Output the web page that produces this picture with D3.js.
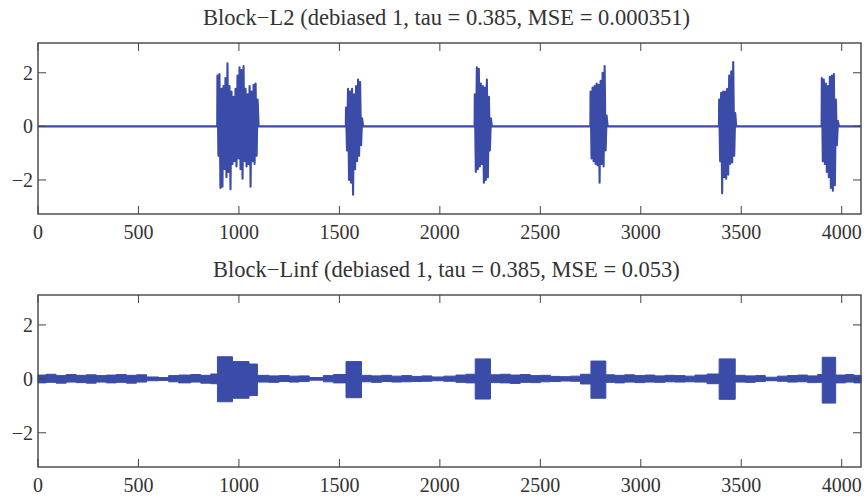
<!DOCTYPE html>
<html>
<head>
<meta charset="utf-8">
<script src="https://cdn.jsdelivr.net/npm/d3@7"></script>
<style>
  body { margin: 0; background: #fff; }
  text { font-family: "Liberation Serif", "Times New Roman", serif; fill: #333; }
</style>
</head>
<body>
<div id="chart"></div>
<script>
const nSamples = 4096;
const xTicks = [0, 500, 1000, 1500, 2000, 2500, 3000, 3500, 4000];
const yTicks = [-2, 0, 2];

const titleL2 = "Block\u2212L2 (debiased 1, tau = 0.385, MSE = 0.000351)";
const titleLinf = "Block\u2212Linf (debiased 1, tau = 0.385, MSE = 0.053)";

// top panel: signal is zero outside the blocks, samples every 5 indices inside
const l2Starts = [893, 1533, 2174, 2750, 3390, 3901];
const l2Step = 5;
const l2Block1 = [1.9, -1.1, 1.95, -2.3, 1.4, -2.25, 1.5, -1.6, 1.8, -1.9, 2.35, -1.7, 1.5, -2.35,
  1.3, -1.4, 1.1, -1.3, 1.4, -1.5, 1.9, -1.2, 2.2, -1.6, 2.1, -1.95, 2.25, -1.3, 1.4, -1.5,
  1.2, -1.4, 1.5, -2.25, 1.3, -1.3, 1.55, -1.4, 1.6, -1.1, 1.0];
const l2Block2 = [0.7, -0.9, 1.4, -2.0, 1.3, -2.1, 1.4, -2.55, 1.2, -1.6, 1.5, -1.3, 1.75, -1.1, 1.65, -0.7, 0.3];
const l2Block3 = [1.2, -1.7, 2.2, -1.6, 2.15, -1.5, 1.6, -1.4, 1.5, -2.1, 1.45, -2.0, 1.75, -1.9, 1.1, -0.9, 0.3];
const l2Block4 = [1.3, -1.2, 1.45, -1.3, 1.5, -1.4, 1.6, -1.45, 1.55, -2.1, 1.7, -1.4, 2.0, -1.5, 2.25, -0.9, 0.4];
const l2Block5 = [1.0, -1.3, 1.25, -2.5, 1.3, -1.9, 1.3, -1.95, 1.4, -1.8, 1.9, -1.4, 2.05, -1.35, 2.4, -1.1, 0.5];
const l2Block6 = [1.8, -1.3, 1.75, -1.4, 1.6, -1.7, 1.5, -1.9, 1.85, -2.3, 1.9, -2.4, 1.95, -2.2, 1.0, -0.7, 0.2];
const l2Blocks = [l2Block1, l2Block2, l2Block3, l2Block4, l2Block5, l2Block6];

// bottom panel: envelope of the dense signal (upper / lower), held until next index
const linfX = [0, 40, 90, 140, 190, 240, 290, 340, 390, 440, 490, 540, 600, 650, 700, 760, 810, 860,
  893, 968, 1050, 1092, 1150, 1200, 1250, 1300, 1350, 1420, 1470, 1533, 1610, 1660, 1710, 1760,
  1810, 1860, 1910, 1960, 2020, 2080, 2130, 2176, 2252, 2300, 2350, 2400, 2450, 2500, 2550, 2600,
  2650, 2700, 2752, 2826, 2870, 2920, 2970, 3020, 3070, 3120, 3170, 3220, 3270, 3330, 3390, 3470,
  3520, 3570, 3620, 3680, 3730, 3780, 3830, 3880, 3903, 3970, 4020, 4060, 4096];
const linfHi = [0.14, 0.17, 0.12, 0.16, 0.13, 0.15, 0.12, 0.14, 0.16, 0.13, 0.15, 0.07, 0.05, 0.12, 0.14, 0.16, 0.13, 0.18,
  0.82, 0.64, 0.55, 0.13, 0.11, 0.12, 0.10, 0.11, 0.05, 0.12, 0.16, 0.64, 0.13, 0.11, 0.13, 0.10,
  0.12, 0.09, 0.11, 0.07, 0.10, 0.14, 0.17, 0.74, 0.15, 0.17, 0.14, 0.16, 0.12, 0.13, 0.09, 0.08,
  0.10, 0.17, 0.66, 0.15, 0.13, 0.15, 0.12, 0.14, 0.11, 0.13, 0.12, 0.10, 0.14, 0.18, 0.74, 0.13,
  0.11, 0.12, 0.06, 0.10, 0.12, 0.14, 0.11, 0.16, 0.80, 0.14, 0.16, 0.13, 0.13];
const linfLo = [-0.15, -0.13, -0.16, -0.12, -0.14, -0.16, -0.12, -0.15, -0.13, -0.16, -0.12, -0.07, -0.06, -0.11, -0.15, -0.12, -0.16, -0.18,
  -0.85, -0.72, -0.62, -0.12, -0.13, -0.10, -0.12, -0.10, -0.05, -0.11, -0.15, -0.70, -0.11, -0.13, -0.10, -0.12,
  -0.11, -0.10, -0.09, -0.07, -0.09, -0.13, -0.15, -0.75, -0.14, -0.15, -0.17, -0.13, -0.14, -0.11, -0.10, -0.08,
  -0.09, -0.19, -0.72, -0.13, -0.15, -0.12, -0.14, -0.12, -0.13, -0.11, -0.12, -0.11, -0.12, -0.18, -0.76, -0.12,
  -0.13, -0.10, -0.07, -0.09, -0.12, -0.11, -0.14, -0.13, -0.90, -0.15, -0.12, -0.15, -0.15];

const width = 866, height = 496;
const margin = {left: 38, right: 5};
const panels = [
  {title: titleL2, top: 43, bottom: 214},
  {title: titleLinf, top: 295, bottom: 467}
];
const lineColor = "#3b4ba8";
const axisColor = "#444";
const tickLen = 8;

const svg = d3.select("#chart")
  .append("svg")
  .attr("width", width)
  .attr("height", height)
  .style("background", "#fff");

const x = d3.scaleLinear()
  .domain([0, nSamples])
  .range([margin.left, width - margin.right]);

panels.forEach((p, pi) => {
  const y = d3.scaleLinear()
    .domain([-3.27, 3.11])
    .range([p.bottom, p.top]);

  const g = svg.append("g");

  // signal
  if (pi === 0) {
    const pts = [[0, 0]];
    l2Blocks.forEach((vals, bi) => {
      pts.push([l2Starts[bi] - 1, 0]);
      vals.forEach((v, i) => pts.push([l2Starts[bi] + i * l2Step, v]));
      pts.push([l2Starts[bi] + vals.length * l2Step, 0]);
    });
    pts.push([nSamples, 0]);
    g.append("path")
      .datum(pts)
      .attr("fill", "none")
      .attr("stroke", lineColor)
      .attr("stroke-width", 2.1)
      .attr("stroke-linejoin", "round")
      .attr("d", d3.line().x(d => x(d[0])).y(d => y(d[1])));
  } else {
    const env = linfX.map((v, i) => ({x: v, hi: linfHi[i], lo: linfLo[i]}));
    g.append("path")
      .datum(env)
      .attr("fill", lineColor)
      .attr("stroke", lineColor)
      .attr("stroke-width", 1)
      .attr("d", d3.area()
        .curve(d3.curveStepAfter)
        .x(d => x(d.x))
        .y0(d => y(d.lo))
        .y1(d => y(d.hi)));
  }

  // box
  g.append("rect")
    .attr("x", x.range()[0])
    .attr("y", p.top)
    .attr("width", x.range()[1] - x.range()[0])
    .attr("height", p.bottom - p.top)
    .attr("fill", "none")
    .attr("stroke", axisColor)
    .attr("stroke-width", 1.4);

  // ticks, inward on all four sides
  xTicks.forEach(t => {
    g.append("line")
      .attr("x1", x(t)).attr("x2", x(t))
      .attr("y1", p.bottom).attr("y2", p.bottom - tickLen)
      .attr("stroke", axisColor).attr("stroke-width", 1);
    g.append("line")
      .attr("x1", x(t)).attr("x2", x(t))
      .attr("y1", p.top).attr("y2", p.top + tickLen)
      .attr("stroke", axisColor).attr("stroke-width", 1);
    g.append("text")
      .attr("x", x(t))
      .attr("y", p.bottom + 25)
      .attr("text-anchor", "middle")
      .style("font-size", "20px")
      .text(t);
  });
  yTicks.forEach(t => {
    g.append("line")
      .attr("x1", x.range()[0]).attr("x2", x.range()[0] + tickLen)
      .attr("y1", y(t)).attr("y2", y(t))
      .attr("stroke", axisColor).attr("stroke-width", 1);
    g.append("line")
      .attr("x1", x.range()[1]).attr("x2", x.range()[1] - tickLen)
      .attr("y1", y(t)).attr("y2", y(t))
      .attr("stroke", axisColor).attr("stroke-width", 1);
    g.append("text")
      .attr("x", x.range()[0] - 5)
      .attr("y", y(t))
      .attr("dy", "0.35em")
      .attr("text-anchor", "end")
      .style("font-size", "20px")
      .text(t < 0 ? "\u2212" + Math.abs(t) : t);
  });

  svg.append("text")
    .attr("x", (x.range()[0] + x.range()[1]) / 2 - 3)
    .attr("y", p.top - 18)
    .attr("text-anchor", "middle")
    .style("font-size", "22.5px")
    .text(p.title);
});
</script>
</body>
</html>
